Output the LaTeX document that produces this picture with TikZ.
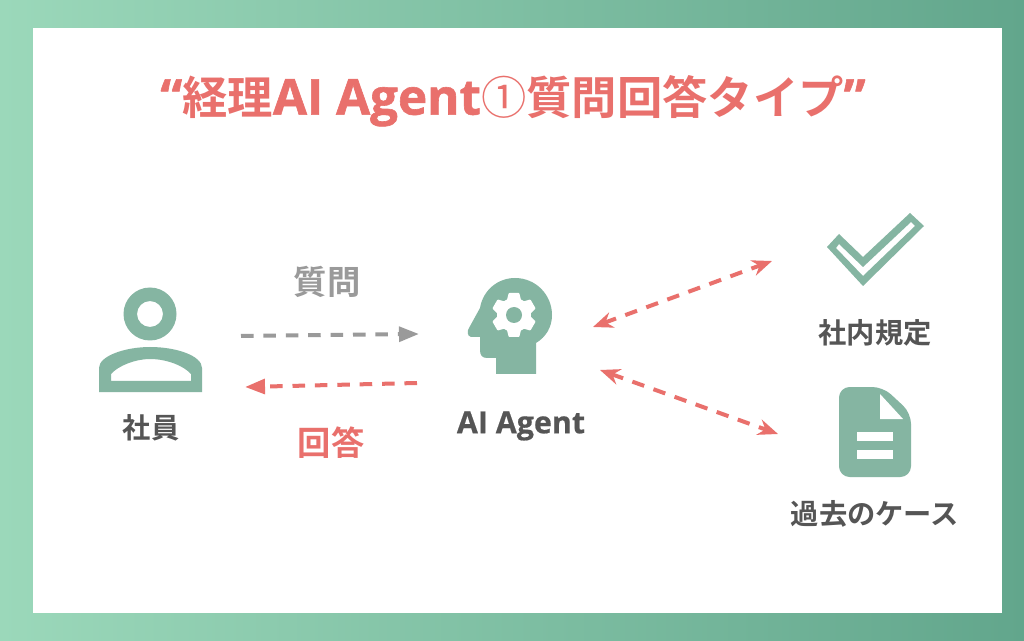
\documentclass[tikz,border=0pt]{standalone}
\usepackage{fontspec}
\newfontfamily\jpb{Noto Sans CJK JP}[BoldFont={* Bold}]
\newfontfamily\lat{Open Sans}[BoldFeatures={FakeBold=0.6}]
\newfontfamily\lath{Open Sans}[BoldFeatures={FakeBold=1.2}]
\usetikzlibrary{arrows.meta}
\definecolor{icon}{HTML}{85B5A2}
\definecolor{red1}{HTML}{E9706C}
\definecolor{gray1}{HTML}{9A9A9A}
\definecolor{dark}{HTML}{555555}
\definecolor{bgl}{HTML}{9BD8BA}
\definecolor{bgr}{HTML}{62A68C}
\tikzset{
  lbl/.style={font=\jpb\bfseries\fontsize{21.2}{23}\selectfont, text=dark, inner sep=0pt},
  dashline/.style={line width=3pt, dash pattern=on 9.4pt off 7.4pt},
  arrowred/.style={dashline,draw=red1, -{Triangle[length=15pt,width=11pt,fill=red1]}},
  arrowredb/.style={dashline,draw=red1, {Stealth[length=15pt,width=12pt,inset=5pt,fill=red1]}-{Stealth[length=15pt,width=12pt,inset=5pt,fill=red1]}},
  arrowgray/.style={dashline,draw=gray1, -{Triangle[length=15pt,width=11pt,fill=gray1]}},
  iconfill/.style={fill=icon, draw=none},
  hole/.style={fill=white, draw=none}
}
\begin{document}
\begin{tikzpicture}[x=0.75pt,y=-0.75pt]
\useasboundingbox (0,0) rectangle (1024,641);
\shade[left color=bgl,right color=bgr] (0,0) rectangle (1024,641);
\fill[white] (33,28) rectangle (1002,613);
\node[inner sep=0pt,text=red1,font=\jpb\bfseries\fontsize{34}{36}\selectfont] (title) at (513,101) {{\lath\bfseries\fontsize{37}{36}\selectfont“}経理{\lath\bfseries\fontsize{37}{36}\selectfont AI Agent}{\mdseries ①}質問回答タイプ{\lath\bfseries\fontsize{37}{36}\selectfont”}};
% person
\fill[iconfill,even odd rule] (150,314) circle[radius=26.5] (150,314) circle[radius=13];
\fill[iconfill,even odd rule] (99,392) -- (99,368) .. controls (99,356) and (125,347) .. (150,347) .. controls (177,347) and (202,356) .. (202,368) -- (202,392) -- cycle
 (111,381) -- (111,374) .. controls (118,366) and (135,359) .. (150,359) .. controls (167,359) and (184,366) .. (191,374) -- (191,381) -- cycle;
\node[lbl] (shain) at (151,428) {社員};
% arrows
\coordinate (a1s) at (241,336);\coordinate (a1e) at (419,334);
\coordinate (a2s) at (417,383);\coordinate (a2e) at (245,387);
\draw[arrowgray] (a1s) -- (a1e);
\draw[arrowred] (a2s) -- (a2e);
\node[inner sep=0pt,text=gray1,font=\jpb\bfseries\fontsize{25}{27}\selectfont] (q) at (327,282) {質問};
\node[inner sep=0pt,text=red1,font=\jpb\bfseries\fontsize{25}{27}\selectfont] (r) at (331,443) {回答};
% head
\fill[iconfill] (496,374) -- (496,358) -- (487,358) .. controls (482,358) and (480,355) .. (480,350) -- (480,337) -- (471,337) .. controls (467,336) and (467,331) .. (469,328) -- (480,308) .. controls (483,290) and (498,278) .. (515,278) .. controls (536,278) and (552,295) .. (552,315) .. controls (552,327) and (546,337) .. (536,343) -- (536,374) -- cycle;
\fill[white] (514,315) circle[radius=17];
\foreach \a in {0,60,...,300}
  \fill[white,draw=white,line width=1.5pt,line join=round,shift={(514,315)},rotate=\a] (-6,-15) -- (-4.5,-21) -- (4.5,-21) -- (6,-15) -- cycle;
\fill[icon] (514,315) circle[radius=8];
\node[inner sep=0pt,text=dark,font=\lat\bfseries\fontsize{22.8}{24}\selectfont] (agent) at (521,426) {AI Agent};
\coordinate (b1s) at (593,327);\coordinate (b1e) at (772,261);
\coordinate (b2s) at (600,370);\coordinate (b2e) at (778,434);
\draw[arrowredb] (b1s) -- (b1e);
\draw[arrowredb] (b2s) -- (b2e);
% check
\fill[iconfill,even odd rule] (827,247) -- (839,234) -- (863,257) -- (910,213) -- (924,226) -- (863,286) -- cycle
 (836,248) -- (839,244) -- (863,267) -- (911,222) -- (915,226) -- (863,276) -- cycle;
\node[lbl] (kitei) at (875,333) {社内規定};
% doc
\fill[iconfill,rounded corners=8pt] (839,387) -- (883,387) -- (911,413) -- (911,477) -- (839,477) -- cycle;
\fill[hole] (880,394) -- (880,419) -- (903,419) -- cycle;
\fill[hole] (857,432) rectangle (893,441);
\fill[hole] (857,450) rectangle (893,459);
\node[lbl] (case) at (875,514) {過去のケース};
\end{tikzpicture}
\end{document}
